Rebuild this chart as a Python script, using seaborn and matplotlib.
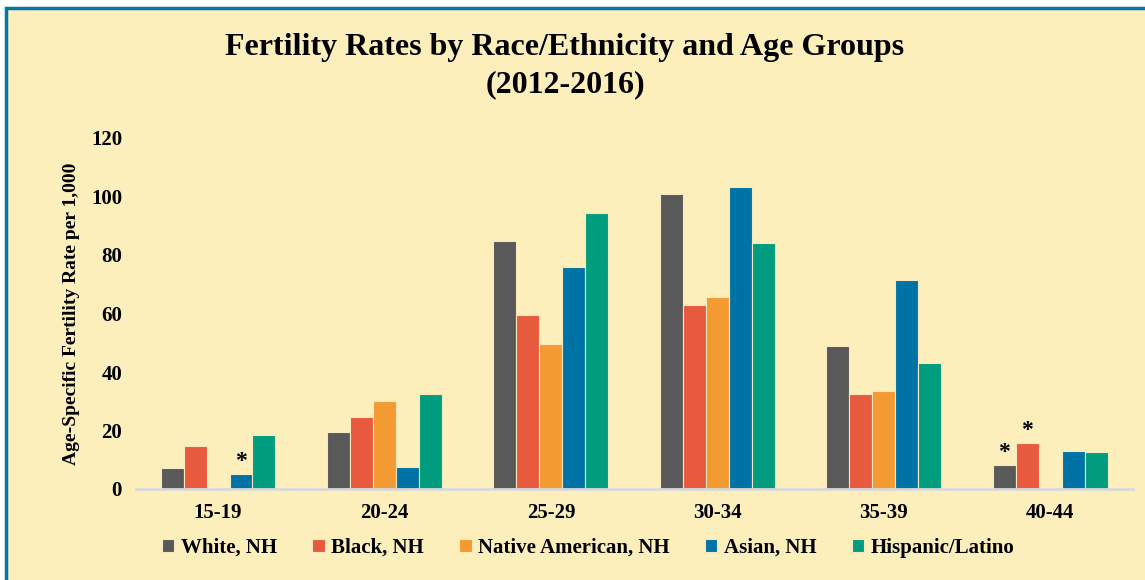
import numpy as np
import pandas as pd
import seaborn as sns
import matplotlib.pyplot as plt
from matplotlib.patches import Rectangle

# Data
age_groups = ["15-19", "20-24", "25-29", "30-34", "35-39", "40-44"]
races = ["White, NH", "Black, NH", "Native American, NH", "Asian, NH", "Hispanic/Latino"]

white = [7.2, 19.5, 84.8, 100.9, 48.9, 8.2]
black = [14.7, 24.6, 59.5, 62.9, 32.5, 15.7]
native = [np.nan, 30.1, 49.6, 65.6, 33.5, np.nan]
asian = [5.1, 7.5, 75.9, 103.2, 71.5, 13.0]
hispanic = [18.5, 32.5, 94.4, 84.1, 43.1, 12.6]

# unstable estimates marked with *
flagged = [("15-19", "Asian, NH"), ("40-44", "White, NH"), ("40-44", "Black, NH")]

colors = ["#595959", "#E85A3E", "#F39A33", "#0073A6", "#009C7E"]
bg = "#FCEFBB"

rows = []
for race, vals in zip(races, [white, black, native, asian, hispanic]):
    for g, v in zip(age_groups, vals):
        rows.append({"Age": g, "Race": race, "Rate": v})
df = pd.DataFrame(rows)

sns.set_style("white")
plt.rcParams['font.family'] = ['Liberation Serif', 'DejaVu Serif']
plt.rcParams['font.weight'] = 'bold'
plt.rcParams['text.color'] = 'black'
plt.rcParams['xtick.color'] = 'black'
plt.rcParams['ytick.color'] = 'black'
plt.rcParams['axes.labelcolor'] = 'black'

fig = plt.figure(figsize=(11.45, 5.8), dpi=100)
fig.patch.set_facecolor("white")
fig.patches.append(Rectangle((6 / 1145, -0.05), 1.1, 1 - 8 / 580 + 0.05, transform=fig.transFigure,
                             facecolor=bg, edgecolor="#0077A8", linewidth=2.5, zorder=-1))

ax = fig.add_axes([136 / 1145, 1 - 489 / 580, (1133 - 136) / 1145, (489 - 138) / 580])
ax.patch.set_alpha(0)

sns.barplot(data=df, x="Age", y="Rate", hue="Race", order=age_groups,
            hue_order=races, palette=colors, saturation=1, width=0.69, ax=ax,
            edgecolor="#F7E8C0", linewidth=0.8, errorbar=None)

# asterisks
for race, cont in zip(races, ax.containers):
    for bar in cont:
        h = bar.get_height()
        if np.isnan(h) or h == 0:
            continue
        xc = bar.get_x() + bar.get_width() / 2
        g = age_groups[int(round(xc))]
        if (g, race) in flagged:
            ax.text(xc, h + 0.6, "*", ha="center", va="bottom", fontsize=17, fontweight="bold")

ax.set_ylim(0, 120)
ax.set_yticks(range(0, 121, 20))
ax.set_xlim(-0.493, 5.498)
ax.tick_params(axis="both", length=0, labelsize=15)
ax.tick_params(axis="y", pad=10)
ax.tick_params(axis="x", pad=10)
for s in ["top", "right", "left"]:
    ax.spines[s].set_visible(False)
ax.spines["bottom"].set_color("#D9D9D9")
ax.spines["bottom"].set_linewidth(2)
ax.set_xlabel("")
ax.set_ylabel("Age-Specific Fertility Rate per 1,000", fontsize=14, fontweight="bold", labelpad=8)

handles, labels = ax.get_legend_handles_labels()
ax.legend(handles, labels, loc="center", bbox_to_anchor=(588 / 1145, 1 - 548 / 580),
          bbox_transform=fig.transFigure, ncol=5, frameon=False, fontsize=15,
          handlelength=0.6, handleheight=0.6, handletextpad=0.3, columnspacing=1.7)

fig.text(565 / 1145, 1 - 47 / 580, "Fertility Rates by Race/Ethnicity and Age Groups",
         ha="center", va="center", fontsize=23, fontweight="bold")
fig.text(565 / 1145, 1 - 85 / 580, "(2012-2016)", ha="center", va="center", fontsize=23, fontweight="bold")

fig.savefig("out.png", dpi=100)
